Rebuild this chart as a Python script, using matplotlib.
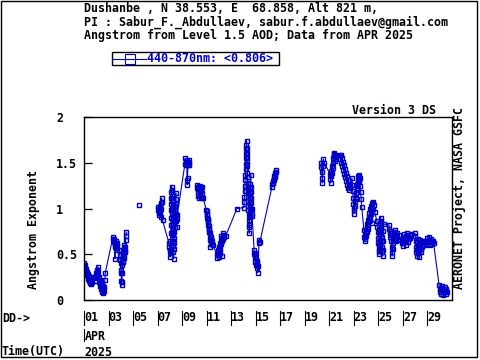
import matplotlib
matplotlib.use("Agg")
import matplotlib.pyplot as plt
from matplotlib.patches import Rectangle
from matplotlib.lines import Line2D

W, H = 480, 360
BLUE = "#0000c8"
FONT = dict(family="DejaVu Sans Mono", weight="bold", size=8.4)

# Angstrom exponent 440-870, day of April 2025 (UTC, fractional)
# connected runs of measurements
apr01_04_day = [1.00, 1.03, 1.06, 1.09, 1.12, 1.15, 1.18, 1.21, 1.24, 1.27, 1.30, 1.33,
                1.36, 1.39, 1.42, 1.45, 1.48, 1.51, 1.54, 1.57, 1.60, 1.64, 1.68, 1.72,
                1.92, 1.95, 1.98, 2.01, 2.04, 2.07, 2.10, 2.13, 2.16, 2.19, 2.22, 2.25,
                2.28, 2.31, 2.34, 2.37, 2.40, 2.43, 2.46, 2.49, 2.52, 2.55, 2.58, 2.62,
                2.66, 2.70, 2.74,
                3.36, 3.40, 3.43, 3.46, 3.49, 3.52, 3.55, 3.58, 3.61, 3.64, 3.67, 3.70, 3.73,
                3.88, 3.92, 3.95, 3.98, 4.01, 4.03, 4.05, 4.07, 4.09, 4.11, 4.13, 4.15,
                4.17, 4.19, 4.21, 4.23, 4.25, 4.27, 4.29, 4.31, 4.33, 4.36, 4.39, 4.42, 4.45]
apr01_04_ae = [0.40, 0.37, 0.35, 0.38, 0.33, 0.30, 0.34, 0.29, 0.27, 0.31, 0.25, 0.28,
               0.23, 0.26, 0.21, 0.24, 0.19, 0.22, 0.17, 0.21, 0.24, 0.20, 0.25, 0.24,
               0.25, 0.30, 0.26, 0.21, 0.27, 0.33, 0.29, 0.36, 0.31, 0.25, 0.20, 0.24,
               0.18, 0.22, 0.15, 0.19, 0.12, 0.16, 0.09, 0.13, 0.08, 0.11, 0.15, 0.10,
               0.14, 0.22, 0.30,
               0.69, 0.66, 0.63, 0.67, 0.60, 0.45, 0.58, 0.64, 0.61, 0.57, 0.62, 0.59, 0.55,
               0.55, 0.49, 0.44, 0.40, 0.33, 0.29, 0.21, 0.16, 0.20, 0.30, 0.38, 0.43,
               0.48, 0.42, 0.52, 0.46, 0.56, 0.50, 0.60, 0.54, 0.58, 0.52, 0.66, 0.70, 0.74]

apr05_day = [5.48]
apr05_ae = [1.04]

apr07_09_day = [7.03, 7.06, 7.09, 7.12, 7.15, 7.18, 7.21, 7.24, 7.27, 7.30, 7.33, 7.36, 7.40,
                7.93, 7.96, 7.99, 8.01, 8.03, 8.05, 8.07, 8.08, 8.09, 8.10,
                8.11, 8.12, 8.13, 8.14, 8.16, 8.18, 8.19, 8.20, 8.21, 8.23,
                8.24, 8.25, 8.26, 8.27, 8.28, 8.29, 8.30, 8.32, 8.33, 8.35,
                8.36, 8.38, 8.40, 8.42, 8.44, 8.45, 8.47, 8.48, 8.50, 8.52,
                8.54, 8.56, 8.58, 8.60,
                9.23, 9.26, 9.29, 9.32, 9.35, 9.38, 9.40, 9.42, 9.44, 9.47, 9.50, 9.53, 9.56, 9.59]
apr07_09_ae = [0.98, 1.02, 0.95, 0.99, 0.93, 1.03, 0.96, 0.91, 1.00, 1.06, 1.11, 1.07, 0.87,
               0.62, 0.58, 0.52, 0.47, 0.55, 0.64, 0.73, 0.82, 0.90, 0.98,
               1.05, 1.12, 1.18, 1.24, 1.20, 1.14, 1.08, 1.01, 0.95, 0.89,
               0.83, 0.77, 0.71, 0.65, 0.59, 0.53, 0.45, 0.56, 0.62, 0.68,
               0.74, 0.80, 0.86, 0.92, 0.97, 1.03, 1.10, 1.17, 1.05, 0.94,
               0.86, 0.80, 0.88, 0.93,
               1.49, 1.55, 1.52, 1.49, 1.47, 1.53, 1.31, 1.26, 1.33, 1.48, 1.51, 1.48, 1.53, 1.50]

apr10_16_day = [10.21, 10.24, 10.27, 10.30, 10.33, 10.36, 10.39, 10.42, 10.45, 10.48,
                10.51, 10.54, 10.57, 10.60, 10.63, 10.66, 10.70,
                10.98, 11.00, 11.02, 11.04, 11.06, 11.08, 11.10, 11.12, 11.14, 11.16,
                11.18, 11.20, 11.22, 11.24, 11.26, 11.28, 11.30, 11.33, 11.36, 11.39,
                11.42, 11.45, 11.48,
                11.84, 11.87, 11.90, 11.93, 11.96, 11.99, 12.02, 12.05, 12.08, 12.11,
                12.14, 12.17, 12.20, 12.23, 12.26, 12.29, 12.32, 12.35, 12.40, 12.45, 12.55,
                13.47,
                14.04, 14.06, 14.08, 14.10, 14.12, 14.14, 14.16, 14.17, 14.18, 14.19,
                14.20, 14.21, 14.23, 14.25, 14.27, 14.28, 14.29, 14.30, 14.31, 14.32,
                14.34, 14.35, 14.36, 14.37, 14.38, 14.39, 14.40, 14.41, 14.42, 14.44,
                14.46, 14.47, 14.49, 14.50, 14.51, 14.52, 14.53, 14.54, 14.55, 14.56,
                14.57, 14.59, 14.60, 14.61, 14.62, 14.63, 14.64, 14.66, 14.68, 14.70,
                14.86, 14.89, 14.92, 14.95, 14.98, 15.01, 15.04, 15.07, 15.10, 15.13,
                15.16, 15.20, 15.26, 15.30, 15.33,
                16.33, 16.36, 16.39, 16.42, 16.45, 16.48, 16.51, 16.54, 16.57, 16.60,
                16.63, 16.66]
apr10_16_ae = [1.22, 1.26, 1.18, 1.24, 1.14, 1.21, 1.12, 1.19, 1.25, 1.16,
               1.22, 1.13, 1.20, 1.11, 1.17, 1.23, 1.12,
               0.98, 0.94, 0.97, 0.90, 0.93, 0.86, 0.89, 0.82, 0.85, 0.78,
               0.81, 0.74, 0.77, 0.70, 0.73, 0.58, 0.66, 0.69, 0.63, 0.67,
               0.61, 0.65, 0.60,
               0.50, 0.46, 0.52, 0.49, 0.55, 0.47, 0.58, 0.53, 0.62, 0.57,
               0.66, 0.61, 0.70, 0.64, 0.48, 0.68, 0.73, 0.67, 0.71, 0.69, 0.70,
               1.00,
               1.01, 1.07, 1.13, 1.19, 1.25, 1.31, 1.37, 1.43, 1.49, 1.55,
               1.60, 1.65, 1.69, 1.74, 1.66, 1.61, 1.56, 1.51, 1.46, 1.39,
               1.34, 1.28, 1.23, 1.18, 1.13, 1.08, 1.03, 0.98, 0.93, 0.87,
               0.80, 0.73, 0.82, 0.91, 0.97, 1.02, 1.07, 1.12, 1.17, 1.22,
               1.27, 1.37, 1.24, 1.18, 1.12, 1.06, 1.00, 0.94, 1.00, 0.92,
               0.55, 0.50, 0.46, 0.51, 0.42, 0.47, 0.38, 0.43, 0.35, 0.40,
               0.30, 0.37, 0.62, 0.66, 0.63,
               1.24, 1.27, 1.30, 1.28, 1.33, 1.31, 1.36, 1.34, 1.39, 1.37,
               1.42, 1.40]

apr20_30_day = [20.32, 20.35, 20.38, 20.41, 20.44, 20.48, 20.52, 20.58,
                21.05, 21.08, 21.11, 21.14, 21.17, 21.20, 21.23, 21.26, 21.29, 21.32,
                21.35, 21.38, 21.41, 21.44, 21.47, 21.50, 21.55,
                21.87, 21.91, 21.95, 21.99, 22.03, 22.07, 22.11, 22.15, 22.19, 22.23,
                22.27, 22.31, 22.35, 22.39, 22.43, 22.47, 22.51, 22.55, 22.59, 22.63, 22.67,
                22.85, 22.88, 22.91, 22.94, 22.97, 23.00, 23.02, 23.05, 23.08, 23.11,
                23.14, 23.17, 23.20, 23.23, 23.26, 23.29, 23.32, 23.35, 23.38, 23.41,
                23.44, 23.48, 23.52, 23.56, 23.60, 23.64,
                23.82, 23.85, 23.88, 23.91, 23.94, 23.97, 24.00, 24.03, 24.06, 24.09,
                24.12, 24.15, 24.18, 24.21, 24.24, 24.27, 24.30, 24.33, 24.36, 24.39,
                24.42, 24.45, 24.48, 24.51, 24.55, 24.60, 24.65, 24.70,
                24.88, 24.91, 24.94, 24.97, 25.00, 25.02, 25.04, 25.06, 25.08, 25.10,
                25.12, 25.14, 25.16, 25.18, 25.20, 25.22, 25.24, 25.26, 25.28, 25.30,
                25.32, 25.34, 25.36, 25.38, 25.40, 25.43,
                25.86, 25.89, 25.92, 25.95, 25.98, 26.01, 26.04, 26.07, 26.10, 26.13,
                26.16, 26.19, 26.22, 26.25, 26.28, 26.31, 26.34, 26.37, 26.40, 26.44,
                26.48, 26.52, 26.58, 26.65, 26.72,
                26.92, 26.96, 27.00, 27.04, 27.08, 27.12, 27.16, 27.20, 27.24, 27.28,
                27.32, 27.36, 27.40, 27.45, 27.50, 27.55, 27.60, 27.66, 27.96,
                28.00, 28.03, 28.06, 28.09, 28.12, 28.15, 28.18, 28.21, 28.24, 28.27,
                28.30, 28.33, 28.36, 28.39, 28.42, 28.45, 28.48, 28.52, 28.56, 28.60,
                28.65, 28.70,
                28.88, 28.92, 28.96, 29.00, 29.04, 29.08, 29.12, 29.16, 29.20, 29.24,
                29.28, 29.32, 29.36, 29.40, 29.45, 29.50,
                29.95, 29.99, 30.03, 30.07, 30.11, 30.15, 30.19, 30.23, 30.27, 30.31,
                30.35, 30.39, 30.43, 30.48, 30.53, 30.60]
apr20_30_ae = [1.45, 1.50, 1.40, 1.33, 1.28, 1.46, 1.54, 1.50,
               1.38, 1.32, 1.28, 1.35, 1.41, 1.46, 1.39, 1.44, 1.50, 1.55,
               1.60, 1.57, 1.61, 1.54, 1.58, 1.52, 1.56,
               1.58, 1.54, 1.59, 1.50, 1.55, 1.46, 1.51, 1.42, 1.47, 1.38,
               1.43, 1.34, 1.39, 1.30, 1.35, 1.26, 1.31, 1.22, 1.27, 1.20, 1.25,
               1.33, 1.26, 1.19, 1.12, 1.05, 0.98, 0.94, 1.01, 1.08, 1.03,
               1.10, 1.17, 1.12, 1.20, 1.27, 1.22, 1.30, 1.36, 1.31, 1.37,
               1.29, 1.33, 1.25, 1.18, 1.10, 1.02,
               0.76, 0.69, 0.64, 0.71, 0.67, 0.75, 0.70, 0.79, 0.74, 0.83,
               0.78, 0.87, 0.82, 0.91, 0.86, 0.95, 0.90, 0.99, 0.94, 1.03,
               0.97, 1.06, 0.84, 1.01, 1.07, 0.99, 1.04, 0.96,
               0.86, 0.80, 0.74, 0.68, 0.62, 0.56, 0.50, 0.54, 0.60, 0.66,
               0.72, 0.78, 0.84, 0.90, 0.86, 0.80, 0.74, 0.69, 0.64, 0.58,
               0.53, 0.48, 0.55, 0.65, 0.75, 0.83,
               0.82, 0.78, 0.73, 0.69, 0.75, 0.71, 0.64, 0.58, 0.52, 0.48,
               0.56, 0.62, 0.68, 0.74, 0.70, 0.66, 0.72, 0.76, 0.70, 0.65,
               0.69, 0.73, 0.67, 0.71, 0.66,
               0.66, 0.62, 0.59, 0.63, 0.68, 0.72, 0.69, 0.64, 0.60, 0.65,
               0.70, 0.73, 0.68, 0.63, 0.67, 0.71, 0.68, 0.72, 0.73,
               0.70, 0.64, 0.58, 0.52, 0.48, 0.55, 0.62, 0.67, 0.60, 0.53,
               0.47, 0.54, 0.61, 0.66, 0.59, 0.52, 0.56, 0.62, 0.58, 0.64,
               0.60, 0.63,
               0.64, 0.60, 0.63, 0.68, 0.65, 0.61, 0.66, 0.69, 0.64, 0.60,
               0.63, 0.67, 0.64, 0.61, 0.65, 0.62,
               0.16, 0.12, 0.09, 0.13, 0.07, 0.11, 0.15, 0.10, 0.06, 0.12,
               0.09, 0.14, 0.10, 0.07, 0.12, 0.09]

day_ticks = [1, 3, 5, 7, 9, 11, 13, 15, 17, 19, 21, 23, 25, 27, 29]
day_labels = ["01", "03", "05", "07", "09", "11", "13", "15", "17", "19",
              "21", "23", "25", "27", "29"]
ae_ticks = [0, 0.5, 1, 1.5, 2]
ae_labels = ["0", "0.5", "1", "1.5", "2"]

title_lines = ["Dushanbe , N 38.553, E  68.858, Alt 821 m,",
               "PI : Sabur_F._Abdullaev, sabur.f.abdullaev@gmail.com",
               "Angstrom from Level 1.5 AOD; Data from APR 2025"]
legend_label = "440-870nm: <0.806>"


def fx(x):
    return x / W


def fy(y):
    return 1 - y / H


fig = plt.figure(figsize=(4.8, 3.6), dpi=100)
ax = fig.add_axes([fx(84), fy(300), (452 - 84) / W, (300 - 117) / H])

segments = [(apr01_04_day, apr01_04_ae), (apr05_day, apr05_ae),
            (apr07_09_day, apr07_09_ae), (apr10_16_day, apr10_16_ae),
            (apr20_30_day, apr20_30_ae)]
for day, ae in segments:
    ax.plot(day, ae, color=BLUE, lw=0.8, marker="s", ms=3.4, mfc="none",
            mec=BLUE, mew=1.0)

ax.set_xlim(1, 31)
ax.set_ylim(0, 2)
for s in ax.spines.values():
    s.set_linewidth(1.0)

ax.set_yticks(ae_ticks)
ax.set_yticklabels(ae_labels, ha="left", **FONT)
ax.tick_params(axis="y", direction="in", length=6, width=0.9, pad=20)
ax.set_xticks(day_ticks)
ax.set_xticklabels(day_labels, ha="left", **FONT)
ax.tick_params(axis="x", length=0, pad=8)

# little bars in front of the date labels
tr = ax.get_xaxis_transform()
for d in day_ticks:
    ax.plot([d, d], [-0.062, -0.135], transform=tr, clip_on=False,
            color="black", lw=0.8)
ax.plot([1, 1], [-0.16, -0.225], transform=tr, clip_on=False, color="black", lw=0.8)

for i, line in enumerate(title_lines):
    fig.text(fx(84), fy(8 + 14 * i), line, ha="left", va="center", **FONT)

fig.text(fx(436), fy(111), "Version 3 DS", ha="right", va="center", **FONT)
fig.text(fx(459), fy(289), "AERONET Project, NASA GSFC", rotation=90,
         ha="center", va="bottom", **FONT)
fig.text(fx(34), fy(289), "Angstrom Exponent", rotation=90,
         ha="center", va="bottom", **FONT)

fig.text(fx(2), fy(318), "DD->", ha="left", va="center", **FONT)
fig.text(fx(85), fy(336), "APR", ha="left", va="center", **FONT)
fig.text(fx(84), fy(352), "2025", ha="left", va="center", **FONT)
fig.text(fx(1), fy(352), "Time(UTC)", ha="left", va="center", **FONT)

# legend box
fig.add_artist(Rectangle((fx(112), fy(65)), (279 - 112) / W, 13 / H,
                         transform=fig.transFigure, fill=False, ec="black", lw=1))
fig.add_artist(Line2D([fx(113), fx(146)], [fy(58.5), fy(58.5)],
                      transform=fig.transFigure, color=BLUE, lw=0.8))
fig.add_artist(Line2D([fx(130)], [fy(58.5)], transform=fig.transFigure,
                      marker="s", ms=7, mfc="none", mec=BLUE, mew=0.8))
fig.text(fx(147), fy(58.5), legend_label, color=BLUE, ha="left", va="center", **FONT)

# outer frame
fig.add_artist(Rectangle((fx(1), fy(357)), 476 / W, 356 / H,
                         transform=fig.transFigure, fill=False, ec="black", lw=1))

fig.savefig("out.png", dpi=100)
